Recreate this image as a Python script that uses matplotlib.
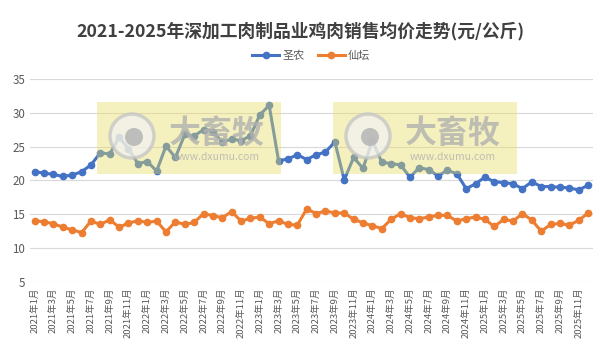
import matplotlib
matplotlib.use("Agg")
import matplotlib.pyplot as plt
from matplotlib.patches import Rectangle, Circle

plt.rcParams["font.family"] = ["Noto Sans CJK SC", "DejaVu Sans"]

# monthly labels 2021-01 .. 2025-12
months = [f"{y}年{m}月" for y in range(2021, 2026) for m in range(1, 13)]

shengnong = [
    21.3, 21.1, 20.9, 20.6, 20.8, 21.3, 22.3, 24.1, 23.9, 26.4,
    24.7, 22.5, 22.8, 21.4, 25.1, 23.4, 26.8, 26.6, 27.5, 27.2,
    25.7, 26.1, 25.9, 26.6, 29.7, 31.1, 22.9, 23.2, 23.8, 23.1,
    23.8, 24.2, 25.7, 20.1, 23.4, 21.8, 25.9, 22.7, 22.5, 22.3,
    20.5, 21.9, 21.6, 20.7, 21.5, 21.0, 18.8, 19.5, 20.5, 19.8,
    19.7, 19.5, 18.8, 19.8, 19.1, 19.1, 19.0, 18.9, 18.6, 19.3,
]

xiantan = [
    14.05, 13.9, 13.6, 13.1, 12.7, 12.3, 14.0, 13.5, 14.2, 13.1,
    13.7, 14.05, 13.8, 14.0, 12.4, 13.9, 13.5, 13.8, 15.1, 14.8,
    14.5, 15.4, 14.0, 14.4, 14.6, 13.6, 14.05, 13.5, 13.4, 15.8,
    15.1, 15.5, 15.2, 15.2, 14.25, 13.75, 13.3, 12.9, 14.25, 15.1,
    14.5, 14.35, 14.6, 14.85, 14.85, 14.0, 14.35, 14.6, 14.25, 13.2,
    14.25, 14.0, 15.1, 14.15, 12.5, 13.5, 13.65, 13.4, 14.1, 15.2,
]

title = "2021-2025年深加工肉制品业鸡肉销售均价走势(元/公斤)"

fig = plt.figure(figsize=(6, 3.56), dpi=100)
ax = fig.add_axes([0.05, 0.208, 0.938, 0.57])

x = list(range(len(months)))

ax.plot(x, shengnong, color="#4472C4", lw=2.2, marker="o",
        ms=4.5, label="圣农", zorder=3)
ax.plot(x, xiantan, color="#ED7D31", lw=2.2, marker="o",
        ms=4.5, label="仙坛", zorder=3)

ax.set_xlim(-0.5, len(months) - 0.5)
ax.set_ylim(5, 35)
ax.set_yticks(range(5, 36, 5))
ax.grid(axis="y", color="#d9d9d9", lw=0.8)
ax.set_axisbelow(True)

ax.set_xticks(x[::2])
ax.set_xticklabels(months[::2], rotation=90, fontsize=6.8, color="#595959")
ax.tick_params(axis="y", labelsize=8.3, labelcolor="#595959", length=0)
ax.tick_params(axis="x", length=0, pad=4)

for s in ax.spines.values():
    s.set_visible(False)

fig.text(0.5, 0.913, title, ha="center", va="center",
         fontsize=12.8, fontweight="bold", color="#404040")

ax.legend(loc="center", bbox_to_anchor=(0.5, 1.115), ncol=2, frameon=False,
          fontsize=8, labelcolor="#595959", handlelength=2.4,
          columnspacing=1.2, handletextpad=0.3)

# watermarks
W, H = 600, 356
for x0 in (97, 333):
    y0 = 102
    fig.add_artist(Rectangle((x0 / W, 1 - (y0 + 72) / H), 184 / W, 72 / H,
                             transform=fig.transFigure, facecolor="#e8dc5e",
                             edgecolor="none", alpha=0.4, zorder=5))
    cx, cy = x0 + 35, H - 136
    fig.add_artist(Circle((cx, cy), 22, transform=None,
                          facecolor="#f2f2f2", edgecolor="#c4c4c4",
                          lw=2.5, alpha=0.75, zorder=6))
    fig.add_artist(Circle((cx + 2, cy - 1), 9, transform=None,
                          facecolor="#b4b4b4", edgecolor="none",
                          alpha=0.85, zorder=7))
    fig.text((x0 + 120) / W, 1 - 134 / H, "大畜牧", ha="center", va="center",
             fontsize=23, fontweight="bold", color="#b0b0b0", alpha=0.8,
             zorder=8)
    fig.text((x0 + 120) / W, 1 - 157 / H, "www.dxumu.com", ha="center",
             va="center", fontsize=7.5, color="#b0b0b0", alpha=0.8, zorder=8)

fig.savefig("out.png", dpi=100)
